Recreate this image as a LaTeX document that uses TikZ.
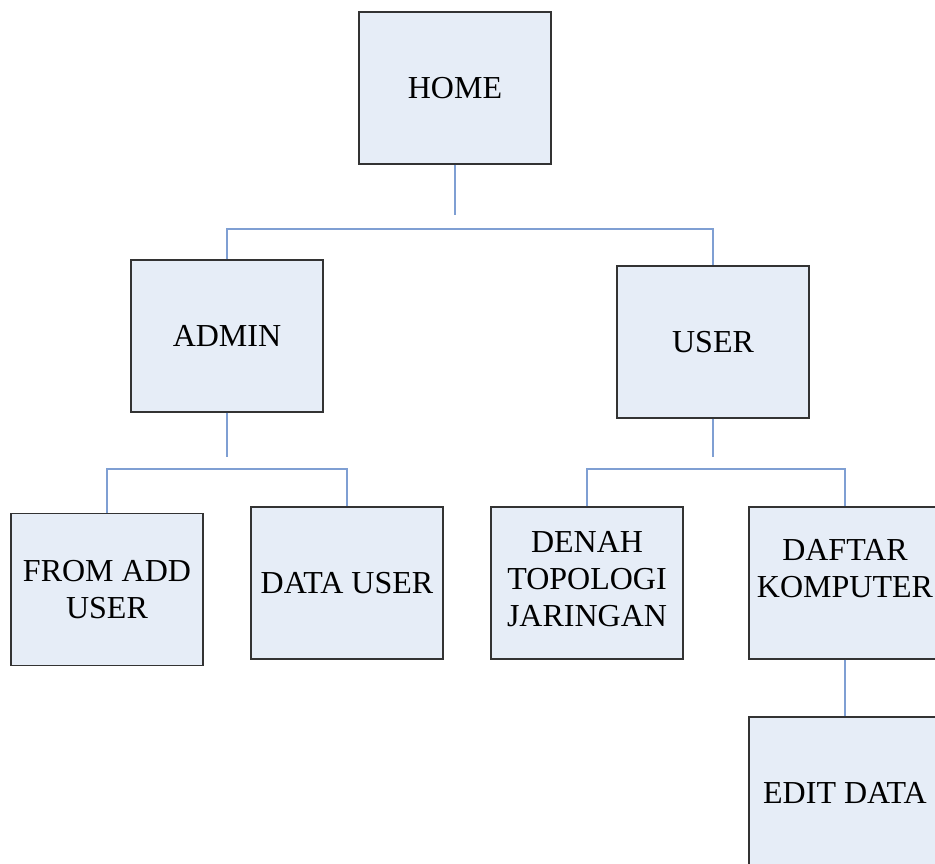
\documentclass[tikz,border=0pt]{standalone}
\usepackage{fontspec}
\setmainfont{Liberation Serif}
\definecolor{boxfill}{HTML}{E6EDF7}
\definecolor{boxline}{HTML}{333333}
\definecolor{linkline}{HTML}{7F9FD3}
\begin{document}
\begin{tikzpicture}[x=1pt, y=-1pt,
  menubox/.style={draw=boxline, fill=boxfill, line width=1.1pt,
    minimum width=192pt, minimum height=152pt, inner sep=0pt,
    align=center, font=\fontsize{32}{36.8}\selectfont},
  link/.style={draw=linkline, line width=1.3pt}]
\useasboundingbox (0,0) rectangle (935,863);
\clip (0,0) rectangle (935,863);

% menu boxes
\node[menubox] (home)   at (455,88)    {HOME};
\node[menubox] (admin)  at (227,336)   {ADMIN};
\node[menubox] (user)   at (713,342)   {USER};
\node[menubox] (addusr) at (107,589.5) {FROM ADD\\USER};
\node[menubox] (datusr) at (347,583)   {DATA USER};
\node[menubox] (denah)  at (587,583)   {DENAH\\TOPOLOGI\\JARINGAN\\[-28.8pt]\mbox{}};
\node[menubox] (daftar) at (845,583)   {DAFTAR\\KOMPUTER\\[-8pt]\mbox{}};
\node[menubox] (edit)   at (845,793)   {EDIT DATA};

% branch points
\coordinate (homeEnd)  at (455,215);
\coordinate (adminEnd) at (227,457);
\coordinate (userEnd)  at (713,457);
\coordinate (busTop)   at (0,229);
\coordinate (busAdmin) at (0,469);
\coordinate (busUser)  at (0,469);

% connectors
\path[link] (home.south) -- (homeEnd);
\path[link] (admin.north) -- (admin.north |- busTop) -- (user.north |- busTop) -- (user.north);

\path[link] (admin.south) -- (adminEnd);
\path[link] (addusr.north) -- (addusr.north |- busAdmin) -- (datusr.north |- busAdmin) -- (datusr.north);

\path[link] (user.south) -- (userEnd);
\path[link] (denah.north) -- (denah.north |- busUser) -- (daftar.north |- busUser) -- (daftar.north);

\path[link] (daftar.south) -- (edit.north);
\end{tikzpicture}
\end{document}
